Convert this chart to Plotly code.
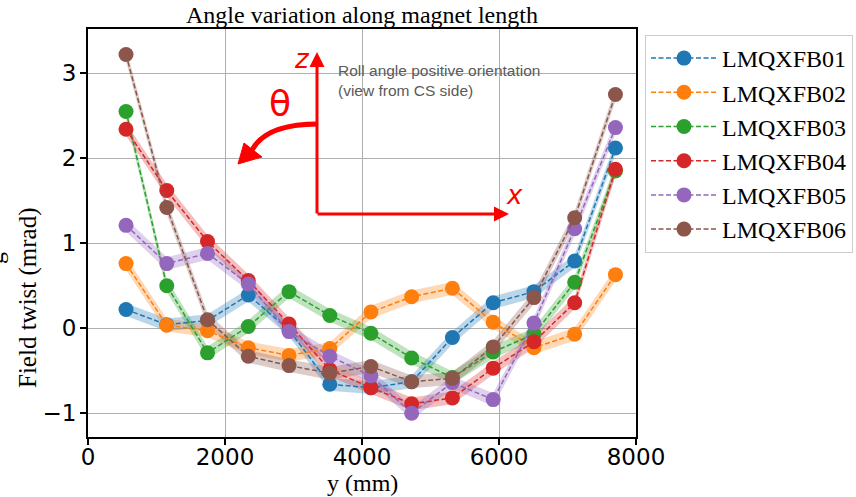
import plotly.graph_objects as go

# ---------------- data ----------------
position_mm = [555, 1150, 1745, 2340, 2935, 3530, 4130, 4725, 5320, 5915, 6510, 7105, 7700]

series_names = ["LMQXFB01", "LMQXFB02", "LMQXFB03", "LMQXFB04", "LMQXFB05", "LMQXFB06"]

lmqxfb01 = [0.22, 0.04, 0.09, 0.39, -0.02, -0.66, -0.70, -0.63, -0.11, 0.30, 0.43, 0.79, 2.12]
lmqxfb02 = [0.76, 0.035, -0.03, -0.23, -0.32, -0.24, 0.19, 0.37, 0.47, 0.07, -0.23, -0.07, 0.63]
lmqxfb03 = [2.55, 0.50, -0.29, 0.02, 0.43, 0.15, -0.06, -0.35, -0.58, -0.28, -0.07, 0.54, 1.85]
lmqxfb04 = [2.34, 1.62, 1.02, 0.56, 0.05, -0.49, -0.70, -0.89, -0.82, -0.47, -0.16, 0.30, 1.87]
lmqxfb05 = [1.21, 0.76, 0.88, 0.52, -0.04, -0.33, -0.56, -1.00, -0.64, -0.84, 0.06, 1.17, 2.36]
lmqxfb06 = [3.22, 1.42, 0.10, -0.33, -0.44, -0.53, -0.45, -0.63, -0.59, -0.22, 0.36, 1.30, 2.75]

uncertainty_mrad = 0.075

x_ticks = [0, 2000, 4000, 6000, 8000]
y_ticks = [-1, 0, 1, 2, 3]

colors = ["#1f77b4", "#ff7f0e", "#2ca02c", "#d62728", "#9467bd", "#8c564b"]
band_colors = ["rgba(31,119,180,0.3)", "rgba(255,127,14,0.3)", "rgba(44,160,44,0.3)",
               "rgba(214,39,40,0.3)", "rgba(148,103,189,0.3)", "rgba(140,86,75,0.3)"]

all_series = [lmqxfb01, lmqxfb02, lmqxfb03, lmqxfb04, lmqxfb05, lmqxfb06]

# ---------------- figure ----------------
W, H = 856, 497
L, R, T, B = 88, 636, 29, 437  # plot area in pixels


def px(xp):
    return (xp - L) / (R - L)


def py(yp):
    return (B - yp) / (B - T)


fig = go.Figure()

for name, vals, c, bc in zip(series_names, all_series, colors, band_colors):
    upper = [v + uncertainty_mrad for v in vals]
    lower = [v - uncertainty_mrad for v in vals]
    fig.add_trace(go.Scatter(x=position_mm, y=upper, mode="lines", line=dict(width=0, color=bc),
                             showlegend=False, hoverinfo="skip"))
    fig.add_trace(go.Scatter(x=position_mm, y=lower, mode="lines", line=dict(width=0, color=bc),
                             fill="tonexty", fillcolor=bc, showlegend=False, hoverinfo="skip"))

for name, vals, c in zip(series_names, all_series, colors):
    fig.add_trace(go.Scatter(x=position_mm, y=vals, mode="lines+markers", name=name,
                             line=dict(color=c, width=1.5, dash="5px,2.5px"),
                             marker=dict(color=c, size=15, line=dict(width=0))))

axis_common = dict(showline=True, linecolor="black", linewidth=2.2, mirror=True,
                   showgrid=True, gridcolor="#b0b0b0", gridwidth=1,
                   ticks="outside", ticklen=6, tickwidth=1.5, tickcolor="black",
                   zeroline=False,
                   tickfont=dict(family="DejaVu Sans", size=23, color="black"))

fig.update_xaxes(range=[0, 8000], tickvals=x_ticks, ticktext=[str(v) for v in x_ticks],
                 ticklabelstandoff=-8, **axis_common)
fig.update_yaxes(range=[-1.28, 3.52], tickvals=y_ticks,
                 ticktext=["\u22121" if v < 0 else str(v) for v in y_ticks],
                 ticklabelstandoff=-1, **axis_common)

red = "#ff0000"
serif = "Liberation Serif, Times New Roman, serif"


def label(text, x, y, size, color="black", family=serif, angle=0, **kw):
    d = dict(text=text, x=px(x), y=py(y), xref="paper", yref="paper", showarrow=False,
             xanchor="center", yanchor="middle", textangle=angle,
             font=dict(family=family, size=size, color=color))
    d.update(kw)
    return d


annotations = [
    label("Angle variation along magnet length", 362, 15, 24),
    label("y (mm)", 362, 483, 24),
    label("Field twist (mrad)", 28, 298, 25, angle=-90),
    label("g", -5, 258, 24, angle=-90),
    # vertical z axis arrow
    dict(x=px(317), y=py(52), xref="paper", yref="paper", ax=0, ay=163, axref="pixel", ayref="pixel",
         showarrow=True, arrowhead=2, arrowsize=1, arrowwidth=3, arrowcolor=red, text=""),
    # horizontal x axis arrow
    dict(x=px(509), y=py(214), xref="paper", yref="paper", ax=-193, ay=0, axref="pixel", ayref="pixel",
         showarrow=True, arrowhead=2, arrowsize=1, arrowwidth=3, arrowcolor=red, text=""),
    label("<i>z</i>", 302, 59, 26, color=red, family="DejaVu Sans"),
    label("<i>x</i>", 514, 195, 26, color=red, family="DejaVu Sans"),
    label("\u03b8", 280, 103, 36, color=red, family="DejaVu Sans"),
    dict(text="Roll angle positive orientation<br>(view from CS side)", x=px(336), y=py(60),
         xref="paper", yref="paper", xanchor="left", yanchor="top", align="left", showarrow=False,
         font=dict(family="Liberation Sans", size=15.5, color="#5a5a5a")),
]

shapes = [
    # curved arrow body
    dict(type="path", xref="paper", yref="paper",
         path=f"M {px(318)},{py(124)} Q {px(266)},{py(124)} {px(252)},{py(150)}",
         line=dict(color=red, width=5)),
    # curved arrow head
    dict(type="path", xref="paper", yref="paper",
         path=f"M {px(238)},{py(164)} L {px(244)},{py(143)} L {px(262)},{py(157)} Z",
         line=dict(color=red, width=1), fillcolor=red),
]

fig.update_layout(
    width=W, height=H,
    margin=dict(l=L, r=W - R, t=T, b=H - B, autoexpand=False),
    paper_bgcolor="white", plot_bgcolor="white",
    annotations=annotations, shapes=shapes,
    showlegend=True,
    legend=dict(x=px(645), y=py(35), xanchor="left", yanchor="top", traceorder="normal",
                bgcolor="white", bordercolor="#cccccc", borderwidth=1,
                font=dict(family=serif, size=24, color="black"),
                itemwidth=66, tracegroupgap=0),
)

fig.write_html("out.html")
